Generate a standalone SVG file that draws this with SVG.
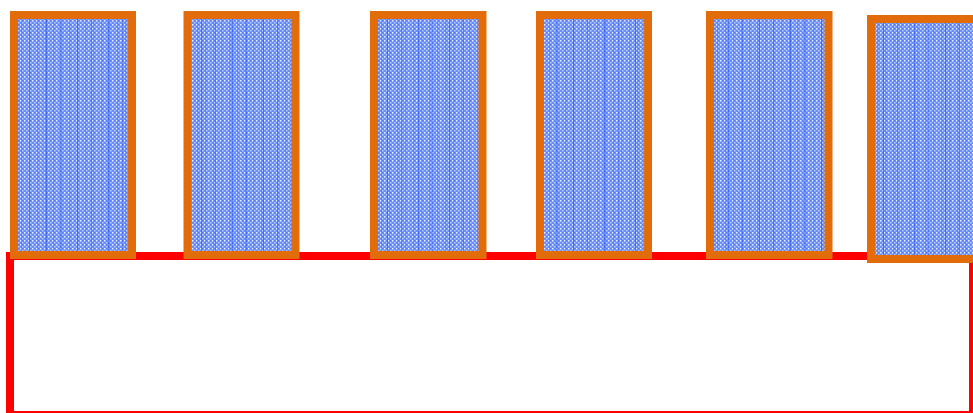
<svg xmlns="http://www.w3.org/2000/svg" width="973" height="413" viewBox="0 0 973 413">
<style>
.cell{stroke:#e36c0a;stroke-width:8;fill:url(#mesh)}
.cellv{fill:url(#vlines);stroke:none}
.base{fill:none;stroke:#ff0000;stroke-width:8}
</style>
<defs>
<pattern id="dots" width="4" height="4" patternUnits="userSpaceOnUse">
<rect width="4" height="4" fill="#6b8ff6"/>
<rect x="0" y="0" width="1.5" height="1.5" fill="#ffffff" fill-opacity="0.85"/>
<rect x="2" y="2" width="1.5" height="1.5" fill="#c9d7fc" fill-opacity="0.8"/>
<rect x="2" y="0" width="1" height="1" fill="#3f6bf2" fill-opacity="0.6"/>
</pattern>
<pattern id="mesh" width="8" height="8" patternUnits="userSpaceOnUse">
<rect width="8" height="8" fill="url(#dots)"/>
<rect x="5" y="0" width="1" height="8" fill="#4e78f2" fill-opacity="0.5"/>
</pattern>
<pattern id="vlines" width="31" height="10" patternUnits="userSpaceOnUse">
<rect x="15" y="0" width="1" height="10" fill="#2f5ff0" fill-opacity="0.7"/>
<rect x="29" y="0" width="1" height="10" fill="#2f5ff0" fill-opacity="0.5"/>
</pattern>
</defs>
<g id="connectors">
<rect class="base" x="10" y="256" width="963" height="159"/>
</g>
<g id="cell1"><rect class="cell" x="14" y="15" width="118" height="240"/><rect class="cellv" x="18" y="19" width="110" height="232"/></g>
<g id="cell2"><rect class="cell" x="187.5" y="15" width="108" height="240"/><rect class="cellv" x="191.5" y="19" width="100" height="232"/></g>
<g id="cell3"><rect class="cell" x="374" y="15" width="108.5" height="240"/><rect class="cellv" x="378" y="19" width="100.5" height="232"/></g>
<g id="cell4"><rect class="cell" x="540" y="15" width="108" height="240"/><rect class="cellv" x="544" y="19" width="100" height="232"/></g>
<g id="cell5"><rect class="cell" x="710" y="15" width="118.5" height="240"/><rect class="cellv" x="714" y="19" width="110.5" height="232"/></g>
<g id="cell6"><rect class="cell" x="871" y="19" width="120" height="240"/><rect class="cellv" x="875" y="23" width="112" height="232"/></g>
</svg>
